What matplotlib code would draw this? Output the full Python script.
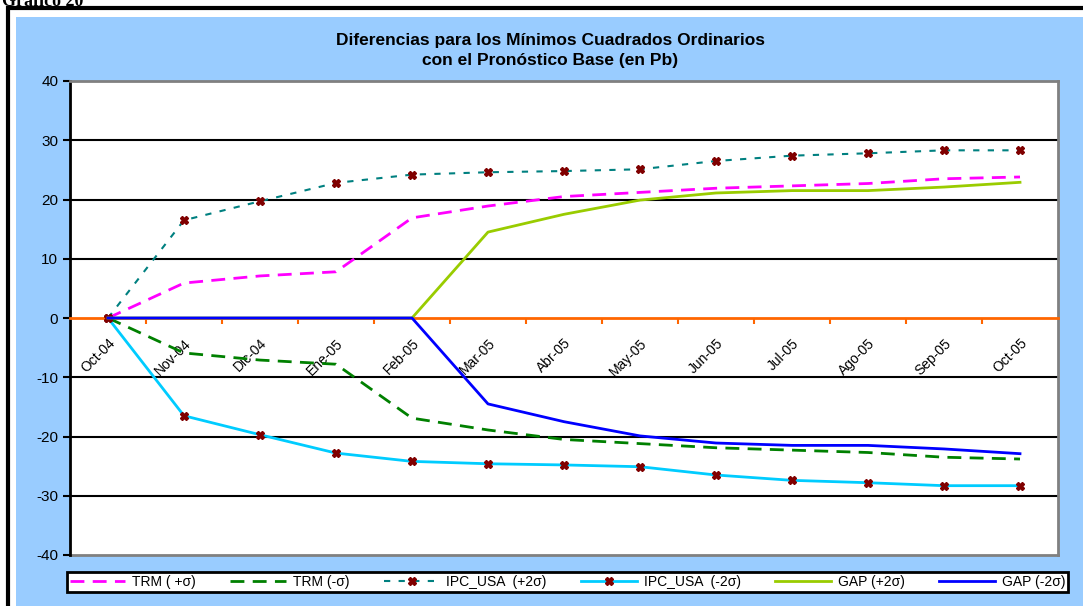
import numpy as np
import matplotlib.pyplot as plt
from matplotlib.patches import Rectangle
from matplotlib.ticker import FixedLocator

plt.rcParams['font.family'] = ['Liberation Sans', 'DejaVu Sans']
plt.rcParams['axes.unicode_minus'] = False

meses = ['Oct-04', 'Nov-04', 'Dic-04', 'Ene-05', 'Feb-05', 'Mar-05', 'Abr-05',
         'May-05', 'Jun-05', 'Jul-05', 'Ago-05', 'Sep-05', 'Oct-05']

trm_mas = [0, 5.9, 7.1, 7.8, 16.9, 18.9, 20.5, 21.2, 21.9, 22.3, 22.7, 23.5, 23.8]
trm_menos = [-v for v in trm_mas]
ipc_mas = [0, 16.5, 19.7, 22.8, 24.2, 24.6, 24.8, 25.1, 26.5, 27.4, 27.8, 28.3, 28.3]
ipc_menos = [-v for v in ipc_mas]
gap_mas = [0, 0, 0, 0, 0, 14.5, 17.5, 19.9, 21.1, 21.5, 21.5, 22.1, 22.9]
gap_menos = [-v for v in gap_mas]

x = np.arange(len(meses)) + 0.5

fig = plt.figure(figsize=(10.83, 6.06), dpi=100, facecolor='white')
W, H = 1083, 606
# fondo azul y marco
fig.add_artist(Rectangle((16 / W, 0), 1, 1 - 17 / H, transform=fig.transFigure,
                         facecolor='#99CCFF', edgecolor='none', zorder=-10))
fig.add_artist(Rectangle((8 / W, -0.05), 1.1, 1.05 - 8 / H, transform=fig.transFigure,
                         facecolor='none', edgecolor='black', lw=3, zorder=-9))
fig.text(2 / W, 1 - 1 / H, 'Gráfico 20', fontsize=13, fontweight='bold',
         family='Liberation Serif', va='center', ha='left')

ax = fig.add_axes([70 / W, 1 - 555 / H, (1058 - 70) / W, (555 - 81) / H])
ax.set_facecolor('white')

ax.plot(x, trm_mas, color='#FF00FF', lw=2, ls=(0, (5, 3)), label='TRM ( +σ)', zorder=3)
ax.plot(x, trm_menos, color='#008000', lw=2, ls=(0, (5, 3)), label='TRM (-σ)', zorder=3)
ax.plot(x, ipc_mas, color='#008080', lw=1.5, ls=(0, (3, 4)), marker='X', ms=6,
        mfc='#800000', mec='#800000', label='IPC_USA  (+2σ)', zorder=3)
ax.plot(x, ipc_menos, color='#00CCFF', lw=2, marker='X', ms=6,
        mfc='#800000', mec='#800000', label='IPC_USA  (-2σ)', zorder=3)
ax.plot(x, gap_mas, color='#99CC00', lw=2, label='GAP (+2σ)', zorder=3)
ax.plot(x, gap_menos, color='#0000FF', lw=2, label='GAP (-2σ)', zorder=3)

ax.set_xlim(0, len(meses))
ax.set_ylim(-40, 40)
ax.set_yticks(np.arange(-40, 41, 10))
for v in [-30, -20, -10, 10, 20, 30]:
    ax.axhline(v, color='black', lw=1.5, zorder=1)

ax.spines['bottom'].set_position(('data', 0))
ax.spines['bottom'].set_color('#FF6600')
ax.spines['bottom'].set_linewidth(2)
ax.spines['left'].set_color('black')
ax.spines['left'].set_linewidth(2)
ax.spines['top'].set_color('#808080')
ax.spines['top'].set_linewidth(2)
ax.spines['right'].set_color('#808080')
ax.spines['right'].set_linewidth(2)
ax.axhline(-40, color='#808080', lw=2, clip_on=False, zorder=1)

ax.set_xticks(x)
ax.set_xticklabels(meses, rotation=45, ha='right', rotation_mode='anchor', fontsize=10)
ax.tick_params(axis='x', which='major', length=0, pad=13)
ax.xaxis.set_minor_locator(FixedLocator(np.arange(1, len(meses))))
ax.tick_params(axis='x', which='minor', length=4, width=1.5, color='#FF6600', direction='out')
ax.tick_params(axis='y', length=5, width=1.5, labelsize=11, direction='out')

fig.text(550 / W, 1 - 40 / H, 'Diferencias para los Mínimos Cuadrados Ordinarios',
         fontsize=12.5, fontweight='bold', ha='center', va='center')
fig.text(550 / W, 1 - 60 / H, 'con el Pronóstico Base (en Pb)',
         fontsize=12.5, fontweight='bold', ha='center', va='center')

leg = fig.legend(loc='center', ncol=6, mode='expand',
                 bbox_to_anchor=(60 / W, 1 - 593 / H, (1075 - 60) / W, 22 / H),
                 fontsize=10, fancybox=False, framealpha=1, edgecolor='black',
                 handlelength=4, borderpad=0.2, columnspacing=1.0, handletextpad=0.5)
leg.get_frame().set_linewidth(2)

fig.savefig('out.png', dpi=100, facecolor=fig.get_facecolor())
